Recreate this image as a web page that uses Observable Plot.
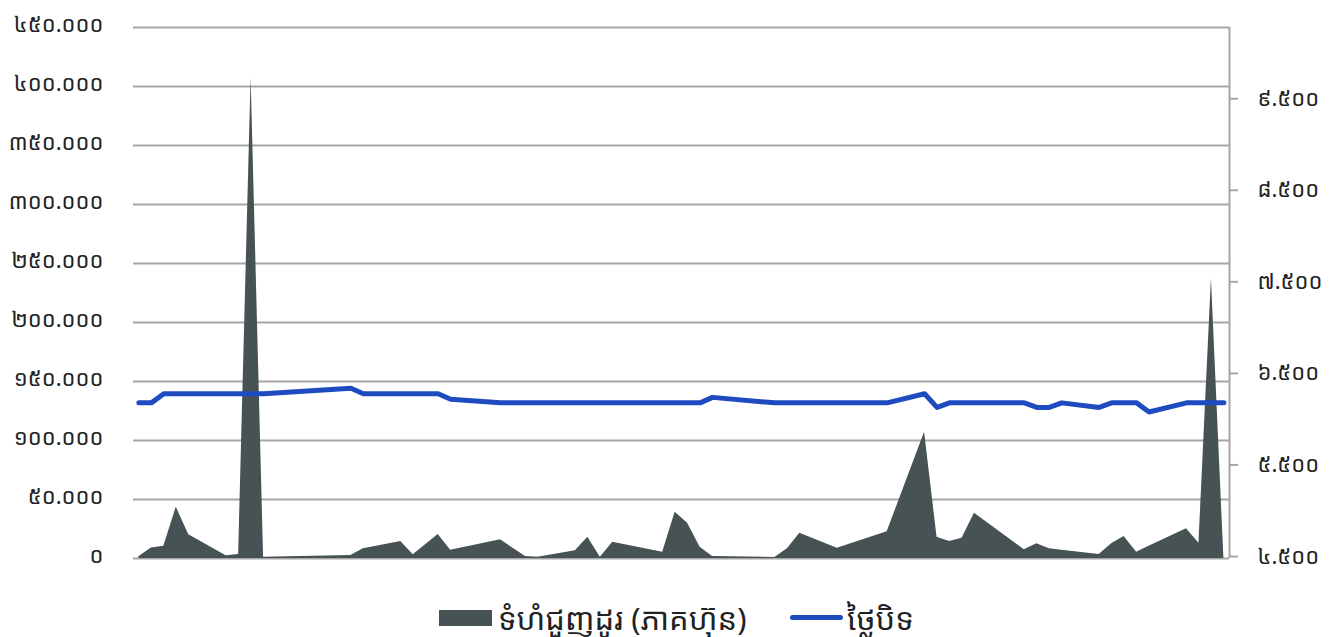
<!DOCTYPE html>
<html>
<head>
<meta charset="utf-8">
<script src="https://cdn.jsdelivr.net/npm/d3@7"></script>
<script src="https://cdn.jsdelivr.net/npm/@observablehq/plot@0.6"></script>
<style>
  html, body { margin: 0; padding: 0; background: #fff; }
  body { width: 1337px; height: 637px; position: relative; overflow: hidden;
         font-family: "Noto Sans Khmer", "Noto Sans", "DejaVu Sans", sans-serif; color: #222; }
  #chart { position: absolute; left: 0; top: 0; }
  #legend { position: absolute; left: 0; top: 598px; width: 1337px; height: 39px; }
  .item { position: absolute; top: 0; height: 39px; display: flex; align-items: center; font-size: 31px; white-space: nowrap; }
  .sw-area { width: 53px; height: 16px; background: #465254; margin-right: 6px; flex: none; }
  .sw-line { width: 53px; height: 5px; border-radius: 3px; background: #1f4bc1; margin-right: 4px; flex: none; }
</style>
</head>
<body>
<div id="chart"></div>
<div id="legend">
  <div class="item" style="left:439px"><span class="sw-area"></span><span id="lg1"></span></div>
  <div class="item" style="left:790px"><span class="sw-line"></span><span id="lg2"></span></div>
</div>
<script>
// trading day index (days from first date)
const days = [0,1,2,3,4,7,8,9,10,17,18,21,22,24,25,29,31,32,35,36,37,38,42,43,44,45,46,51,52,53,56,60,63,64,65,66,67,71,72,73,74,77,78,79,80,81,84,85,86,87];
// trading volume (shares) - left axis
const volume = [1500,9000,10400,43500,20100,2300,3400,407600,1100,2500,8200,14400,3100,20300,7000,15800,1700,1100,6500,18000,1100,13800,5300,39200,29900,9600,1700,850,8200,21400,8700,22600,107000,18000,14400,17200,38400,7400,12500,8200,7000,3400,12500,18600,5300,10300,25200,13000,237300,0];
// closing price - right axis
const price = [6200,6200,6300,6300,6300,6300,6300,6300,6300,6360,6300,6300,6300,6300,6240,6200,6200,6200,6200,6200,6200,6200,6200,6200,6200,6200,6260,6200,6200,6200,6200,6200,6300,6150,6200,6200,6200,6200,6150,6150,6200,6150,6200,6200,6200,6100,6200,6200,6200,6200];

const leftTicks = [0,50000,100000,150000,200000,250000,300000,350000,400000,450000];
const leftTickLabels = ["០","៥០.០០០","១០០.០០០","១៥០.០០០","២០០.០០០","២៥០.០០០","៣០០.០០០","៣៥០.០០០","៤០០.០០០","៤៥០.០០០"];
const rightTicks = [4500,5500,6500,7500,8500,9500];
const rightTickLabels = ["៤.៥០០","៥.៥០០","៦.៥០០","៧.៥០០","៨.៥០០","៩.៥០០"];
const seriesNames = ["ទំហំជួញដូរ (ភាគហ៊ុន)", "ថ្លៃបិទ"];

const leftMax = 450000;
const rightDomain = [4500, 10300];
const toLeft = v => (v - rightDomain[0]) / (rightDomain[1] - rightDomain[0]) * leftMax;

const rows = days.map((d, i) => ({day: d, volume: volume[i], price: price[i]}));
const rightPos = rightTicks.map(toLeft);
const rightLabelMap = new Map(rightPos.map((p, i) => [p, rightTickLabels[i]]));
const leftLabelMap = new Map(leftTicks.map((t, i) => [t, leftTickLabels[i]]));

const xDomain = [-0.43, 87.45];
const grid = "#a6a6a6";

const chart = Plot.plot({
  width: 1337,
  height: 585,
  marginLeft: 133,
  marginRight: 108,
  marginTop: 27,
  marginBottom: 27,
  style: {fontFamily: '"Noto Sans Khmer", "Noto Sans", "DejaVu Sans", sans-serif', fontSize: "22px", color: "#222", background: "#fff"},
  x: {domain: xDomain, axis: null},
  y: {domain: [0, leftMax], axis: null},
  marks: [
    Plot.ruleY(leftTicks, {stroke: grid, strokeWidth: 2}),
    Plot.areaY(rows, {x: "day", y: "volume", fill: "#465254"}),
    Plot.line(rows, {x: "day", y: d => toLeft(d.price), stroke: "#1f4bc1", strokeWidth: 5, strokeLinecap: "round", strokeLinejoin: "round"}),
    Plot.ruleX([xDomain[1]], {stroke: grid, strokeWidth: 2}),
    Plot.axisY(leftTicks, {anchor: "left", label: null, tickSize: 0, tickPadding: 30, dy: -3, tickFormat: d => leftLabelMap.get(d), fontSize: 22}),
    Plot.axisY(rightPos, {anchor: "right", label: null, tickSize: 8, tickPadding: 20, dy: -2, tickFormat: d => rightLabelMap.get(d), fontSize: 22, stroke: grid, strokeWidth: 2, strokeOpacity: 1})
  ]
});
document.getElementById("chart").appendChild(chart);
document.getElementById("lg1").textContent = seriesNames[0];
document.getElementById("lg2").textContent = seriesNames[1];
</script>
</body>
</html>
